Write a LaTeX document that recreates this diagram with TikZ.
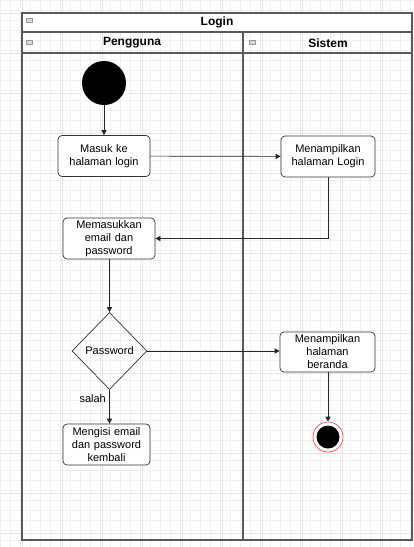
\documentclass[tikz,border=0pt]{standalone}
\usepackage{fontspec}
\setmainfont{Liberation Sans}
\usetikzlibrary{shapes.geometric,arrows.meta}
\begin{document}
\begin{tikzpicture}[x=1pt,y=-1pt,
  act/.style={draw=black!80, rounded corners=4pt, line width=0.7pt, fill=white, align=center,
     font=\fontsize{11}{13}\selectfont, inner sep=0pt, text width=100pt},
  flow/.style={draw=black!85, line width=0.7pt, -{Triangle[length=5pt,width=5pt]}},
  lane/.style={draw=black!65, line width=1.1pt},
  hdr/.style={font=\bfseries\fontsize{12}{14}\selectfont},
  icon/.style={draw=black!40, fill=black!15, line width=0.4pt}
]
\useasboundingbox (0,0) rectangle (414,547);
\fill[white] (0,0) rectangle (414,547);
% grid
\foreach \gx in {0,10,...,410} \draw[black!6, line width=0.3pt] (\gx,0) -- (\gx,547);
\foreach \gy in {0,10,...,540} \draw[black!6, line width=0.3pt] (0,\gy) -- (414,\gy);
\foreach \gx in {22,62,...,412} \draw[black!10, line width=0.4pt] (\gx,0) -- (\gx,547);
\foreach \gy in {13,53,...,533} \draw[black!10, line width=0.4pt] (0,\gy) -- (414,\gy);
% pool
\draw[lane, fill=white] (22,13) rectangle (412,32);
\draw[lane] (22,32) rectangle (243,540);
\draw[lane] (243,32) rectangle (412,540);
\draw[lane] (22,53) -- (412,53);
\node[hdr] (title) at (217,22.5) {Login};
\node[hdr] (pengguna) at (132,43) {Pengguna};
\node[hdr] (sistem) at (328,43) {Sistem};
\draw[icon] (26,18) rectangle (32,22);
\draw[icon] (26,40) rectangle (32,44);
\draw[icon] (249,40) rectangle (255,44);
% nodes
\node[circle, fill=black, minimum size=44pt, inner sep=0pt] (start) at (104,83) {};
\node[act, minimum width=92pt, minimum height=41pt, text width=90pt] (masuk) at (104,156) {Masuk ke\\halaman login};
\node[act, minimum width=94pt, minimum height=41pt, text width=92pt] (tampil) at (328,156.5) {Menampilkan\\halaman Login};
\node[act, minimum width=92pt, minimum height=41pt, text width=90pt] (isi) at (109,238.5) {Memasukkan\\email dan\\password};
\node[draw=black!80, line width=0.7pt, diamond, minimum width=75pt, minimum height=77pt, inner sep=0pt,
  font=\fontsize{11}{13}\selectfont] (dec) at (109.5,351) {Password};
\node[act, minimum width=95pt, minimum height=40pt, text width=93pt] (beranda) at (327.5,352) {Menampilkan\\halaman\\beranda};
\node[act, minimum width=87pt, minimum height=41pt, text width=85pt] (ulang) at (106.5,444.5) {Mengisi email\\dan password\\kembali};
\node[circle, draw=red!80, line width=0.6pt, fill=white, minimum size=30pt, inner sep=0pt] (end) at (328,437) {};
\node[circle, fill=black, minimum size=23pt, inner sep=0pt] at (end) {};
% connectors
\draw[flow] (start) -- (masuk);
\draw[flow] (masuk) -- (tampil);
\draw[flow] (tampil.south) |- (isi.east);
\draw[flow] (isi.south -| dec.north) -- (dec.north);
\draw[flow] (dec.east) -- (beranda.west |- dec.east);
\draw[flow] (dec.south) -- node[left, font=\fontsize{11}{13}\selectfont, pos=0.25] {salah} (dec.south |- ulang.north);
\draw[flow] (beranda.south -| end.north) -- (end.north);
\end{tikzpicture}
\end{document}
